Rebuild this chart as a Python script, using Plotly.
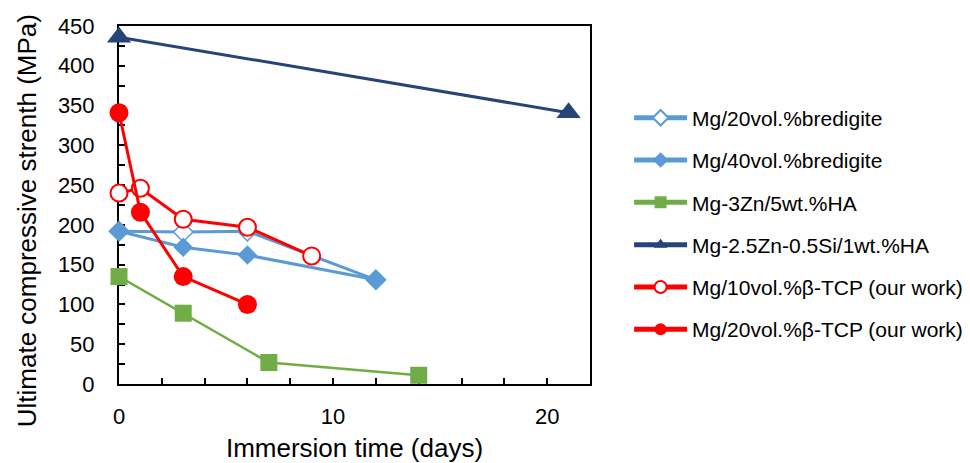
import plotly.graph_objects as go

# ---- data ----
names = [
    "Mg/20vol.%bredigite",
    "Mg/40vol.%bredigite",
    "Mg-3Zn/5wt.%HA",
    "Mg-2.5Zn-0.5Si/1wt.%HA",
    "Mg/10vol.%β-TCP (our work)",
    "Mg/20vol.%β-TCP (our work)",
]
x_b20 = [0, 3, 6, 12]
y_b20 = [192, 191, 192, 131]
x_b40 = [0, 3, 6, 12]
y_b40 = [192, 172, 162, 131]
x_ha = [0, 3, 7, 14]
y_ha = [135, 89, 27, 11]
x_si = [0, 21]
y_si = [436, 341]
x_t10 = [0, 1, 3, 6, 9]
y_t10 = [240, 246, 207, 197, 161]
x_t20 = [0, 1, 3, 6]
y_t20 = [341, 216, 135, 100]

x_ticks = [0, 10, 20]
y_ticks = [0, 50, 100, 150, 200, 250, 300, 350, 400, 450]

LB = "#5B9BD5"
GR = "#70AD47"
DB = "#264478"
RD = "#FF0000"
FONT = "Liberation Sans, Arial, sans-serif"

fig = go.Figure()

def add(x, y, name, color, symbol, size, fill, lw=3, mlw=0):
    fig.add_trace(go.Scatter(
        x=x, y=y, name=name, mode="lines+markers",
        legendgroup=name,
        line=dict(color=color, width=lw),
        marker=dict(symbol=symbol, size=size, color=fill,
                    line=dict(color=color, width=mlw)),
        cliponaxis=False,
    ))

add(x_b20, y_b20, names[0], LB, "diamond", 15, "white", lw=3, mlw=1.5)
add(x_b40, y_b40, names[1], LB, "diamond", 15, LB, lw=3)
add(x_ha, y_ha, names[2], GR, "square", 17, GR, lw=2.5)
add(x_si, y_si, names[3], DB, "triangle-up", 21, DB, lw=3)
add(x_t10, y_t10, names[4], RD, "circle", 17, "white", lw=3, mlw=2)
add(x_t20, y_t20, names[5], RD, "circle", 19, RD, lw=3)

axis_common = dict(
    showline=True, linecolor="black", linewidth=2, mirror=True,
    ticks="inside", ticklen=6, tickwidth=1.5, tickcolor="black",
    showgrid=False, zeroline=False, layer="below traces",
    tickfont=dict(family=FONT, size=22, color="black"),
)

fig.update_xaxes(
    range=[0, 22], tickvals=x_ticks, ticktext=[str(v) for v in x_ticks],
    minor=dict(dtick=2, ticks="inside", ticklen=6, tickwidth=1.5, tickcolor="black"),
    ticklabelstandoff=12,
    title=dict(text="Immersion time (days)", standoff=14,
               font=dict(family=FONT, size=26, color="black")),
    **axis_common,
)
fig.update_yaxes(
    range=[0, 450], tickvals=y_ticks, ticktext=[str(v) for v in y_ticks],
    minor=dict(dtick=25, ticks="inside", ticklen=6, tickwidth=1.5, tickcolor="black"),
    ticklabelstandoff=18,
    **axis_common,
)

fig.add_annotation(
    text="Ultimate compressive strenth (MPa)", textangle=-90,
    xref="paper", yref="paper", x=-0.195, y=0.455, xanchor="center", yanchor="middle",
    showarrow=False,
    font=dict(family=FONT, size=26, color="black"),
)

# page has an 8px body margin, so the figure is sized/offset to compensate
fig.update_layout(
    width=962, height=455,
    margin=dict(l=111, r=380, t=18, b=79, autoexpand=False),
    paper_bgcolor="white", plot_bgcolor="white",
    showlegend=True,
    legend=dict(
        x=1.083, y=0.80, xanchor="left", yanchor="top",
        font=dict(family=FONT, size=21, color="black"),
        traceorder="grouped", tracegroupgap=12, itemwidth=53,
        itemsizing="constant",
        bgcolor="rgba(0,0,0,0)",
    ),
)

fig.write_html("out.html")
